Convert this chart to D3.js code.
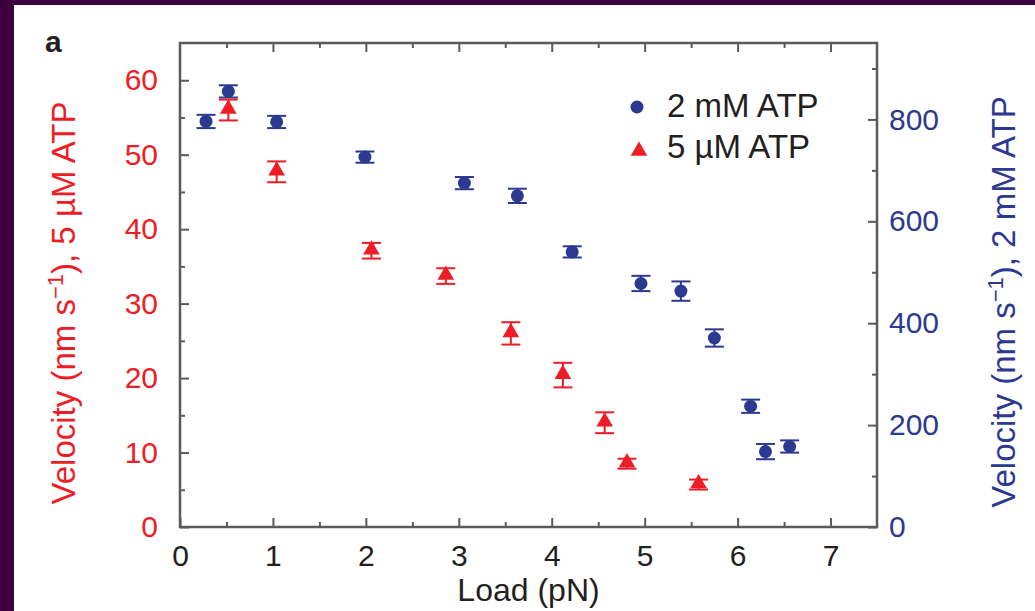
<!DOCTYPE html>
<html>
<head>
<meta charset="utf-8">
<script src="https://cdn.jsdelivr.net/npm/d3@7"></script>
<style>
  html, body { margin: 0; padding: 0; background: #ffffff; }
  svg { display: block; }
  text { font-family: "Liberation Sans", Arial, Helvetica, sans-serif; }
</style>
</head>
<body>
<svg id="chart" width="1035" height="611"></svg>
<script>
// Load (pN) for each measurement
const loadHigh = [0.28, 0.52, 1.04, 1.99, 3.06, 3.63, 4.22, 4.96, 5.39, 5.75, 6.14, 6.30, 6.56];
// Velocity at 2 mM ATP (nm/s) and its error
const velHigh = [796, 855, 795, 726, 675, 650, 540, 478, 463, 371, 237, 148, 158];
const errHigh = [13, 12, 12, 11, 12, 14, 11, 15, 19, 17, 13, 15, 12];

const loadLow = [0.52, 1.04, 2.06, 2.86, 3.56, 4.12, 4.57, 4.81, 5.58];
// Velocity at 5 µM ATP (nm/s) and its error
const velLow = [56.0, 47.7, 37.1, 33.7, 26.0, 20.4, 14.0, 8.5, 5.7];
const errLow = [1.4, 1.4, 1.05, 1.05, 1.5, 1.65, 1.4, 0.67, 0.67];

const xTicks = [0, 1, 2, 3, 4, 5, 6, 7];
const leftTicks = [0, 10, 20, 30, 40, 50, 60];
const rightTicks = [0, 200, 400, 600, 800];

const RED = "#ee1d25";
const BLUE = "#2b3990";
const INK = "#231f20";
const AXIS = "#5a5a5a";

const svg = d3.select("#chart");

// page frame
svg.append("rect").attr("x", 0).attr("y", 0).attr("width", 1035).attr("height", 611).attr("fill", "#ffffff");
svg.append("rect").attr("x", 0).attr("y", 0).attr("width", 14).attr("height", 611).attr("fill", "#3d003d");
svg.append("rect").attr("x", 0).attr("y", 0).attr("width", 1035).attr("height", 5).attr("fill", "#3d003d");

const L = 180, R = 877, T = 43, B = 527;

const x = d3.scaleLinear().domain([0, 7.5]).range([L, R]);
const yL = d3.scaleLinear().domain([0, 65]).range([B, T]);
const yR = d3.scaleLinear().domain([0, 950]).range([B, T]);

const fmt = d3.format("d");
const half = d3.range(0.5, 7.5, 1);

function styleAxis(g, color) {
  g.select(".domain").remove();
  g.selectAll(".tick line").attr("stroke", AXIS).attr("stroke-width", 2);
  g.selectAll(".tick text").attr("fill", color).attr("font-size", 30);
}

// bottom axis (ticks pointing inward)
svg.append("g").attr("transform", `translate(0,${B})`)
  .call(d3.axisBottom(x).tickValues(xTicks).tickFormat(fmt).tickSizeInner(-9).tickSizeOuter(0).tickPadding(18))
  .call(g => styleAxis(g, INK));
svg.append("g").attr("transform", `translate(0,${B})`)
  .call(d3.axisBottom(x).tickValues(half).tickFormat("").tickSizeInner(-5).tickSizeOuter(0))
  .call(g => styleAxis(g, INK));

// top axis
svg.append("g").attr("transform", `translate(0,${T})`)
  .call(d3.axisTop(x).tickValues(xTicks.slice(1)).tickFormat("").tickSizeInner(-9).tickSizeOuter(0))
  .call(g => styleAxis(g, INK));
svg.append("g").attr("transform", `translate(0,${T})`)
  .call(d3.axisTop(x).tickValues(half).tickFormat("").tickSizeInner(-5).tickSizeOuter(0))
  .call(g => styleAxis(g, INK));

// left axis (5 µM ATP)
svg.append("g").attr("transform", `translate(${L},0)`)
  .call(d3.axisLeft(yL).tickValues(leftTicks).tickFormat(fmt).tickSizeInner(-9).tickSizeOuter(0).tickPadding(22))
  .call(g => styleAxis(g, RED));
svg.append("g").attr("transform", `translate(${L},0)`)
  .call(d3.axisLeft(yL).tickValues(d3.range(5, 65, 10)).tickFormat("").tickSizeInner(-5).tickSizeOuter(0))
  .call(g => styleAxis(g, RED));

// right axis (2 mM ATP)
svg.append("g").attr("transform", `translate(${R},0)`)
  .call(d3.axisRight(yR).tickValues(rightTicks).tickFormat(fmt).tickSizeInner(-9).tickSizeOuter(0).tickPadding(12))
  .call(g => styleAxis(g, BLUE));
svg.append("g").attr("transform", `translate(${R},0)`)
  .call(d3.axisRight(yR).tickValues(d3.range(100, 950, 200)).tickFormat("").tickSizeInner(-5).tickSizeOuter(0))
  .call(g => styleAxis(g, BLUE));

// plot box
svg.append("rect").attr("x", L).attr("y", T).attr("width", R - L).attr("height", B - T)
  .attr("fill", "none").attr("stroke", AXIS).attr("stroke-width", 2.5);

// error bars
function errorBars(xs, ys, es, scale, color) {
  const g = svg.append("g").attr("stroke", color).attr("stroke-width", 2).attr("fill", "none");
  xs.forEach((xv, i) => {
    const cx = x(xv), top = scale(ys[i] + es[i]), bot = scale(ys[i] - es[i]);
    g.append("line").attr("x1", cx).attr("x2", cx).attr("y1", top).attr("y2", bot);
    g.append("line").attr("x1", cx - 9.5).attr("x2", cx + 9.5).attr("y1", top).attr("y2", top);
    g.append("line").attr("x1", cx - 9.5).attr("x2", cx + 9.5).attr("y1", bot).attr("y2", bot);
  });
}
errorBars(loadHigh, velHigh, errHigh, yR, BLUE);
errorBars(loadLow, velLow, errLow, yL, RED);

const tri = d3.symbol().type(d3.symbolTriangle).size(120);

svg.append("g").selectAll("circle").data(loadHigh).join("circle")
  .attr("cx", d => x(d)).attr("cy", (d, i) => yR(velHigh[i])).attr("r", 6.5).attr("fill", BLUE);

svg.append("g").selectAll("path").data(loadLow).join("path")
  .attr("d", tri).attr("fill", RED)
  .attr("transform", (d, i) => `translate(${x(d)},${yL(velLow[i]) - 1})`);

// legend
const leg = svg.append("g");
leg.append("circle").attr("cx", 637).attr("cy", 107).attr("r", 6.5).attr("fill", BLUE);
leg.append("path").attr("d", tri).attr("fill", RED).attr("transform", "translate(639,151)");
leg.append("text").attr("x", 667).attr("y", 117).attr("font-size", 33).attr("fill", INK).text("2 mM ATP");
leg.append("text").attr("x", 667).attr("y", 158).attr("font-size", 33).attr("fill", INK).text("5 \u00b5M ATP");

// axis titles
svg.append("text").attr("x", (L + R) / 2).attr("y", 601).attr("text-anchor", "middle")
  .attr("font-size", 32).attr("fill", INK).text("Load (pN)");

function velTitle(cx, cy, color, tail) {
  const t = svg.append("text").attr("transform", `translate(${cx},${cy}) rotate(-90)`)
    .attr("text-anchor", "middle").attr("font-size", 33).attr("fill", color);
  t.append("tspan").text("Velocity (nm s");
  t.append("tspan").attr("dy", -12).attr("font-size", 22).text("\u22121");
  t.append("tspan").attr("dy", 12).text(tail);
}
velTitle(75, 303, RED, "), 5 \u00b5M ATP");
velTitle(1015, 302, BLUE, "), 2 mM ATP");

// panel letter
svg.append("text").attr("x", 45).attr("y", 52).attr("font-size", 30).attr("font-weight", "bold")
  .attr("fill", INK).text("a");
</script>
</body>
</html>
